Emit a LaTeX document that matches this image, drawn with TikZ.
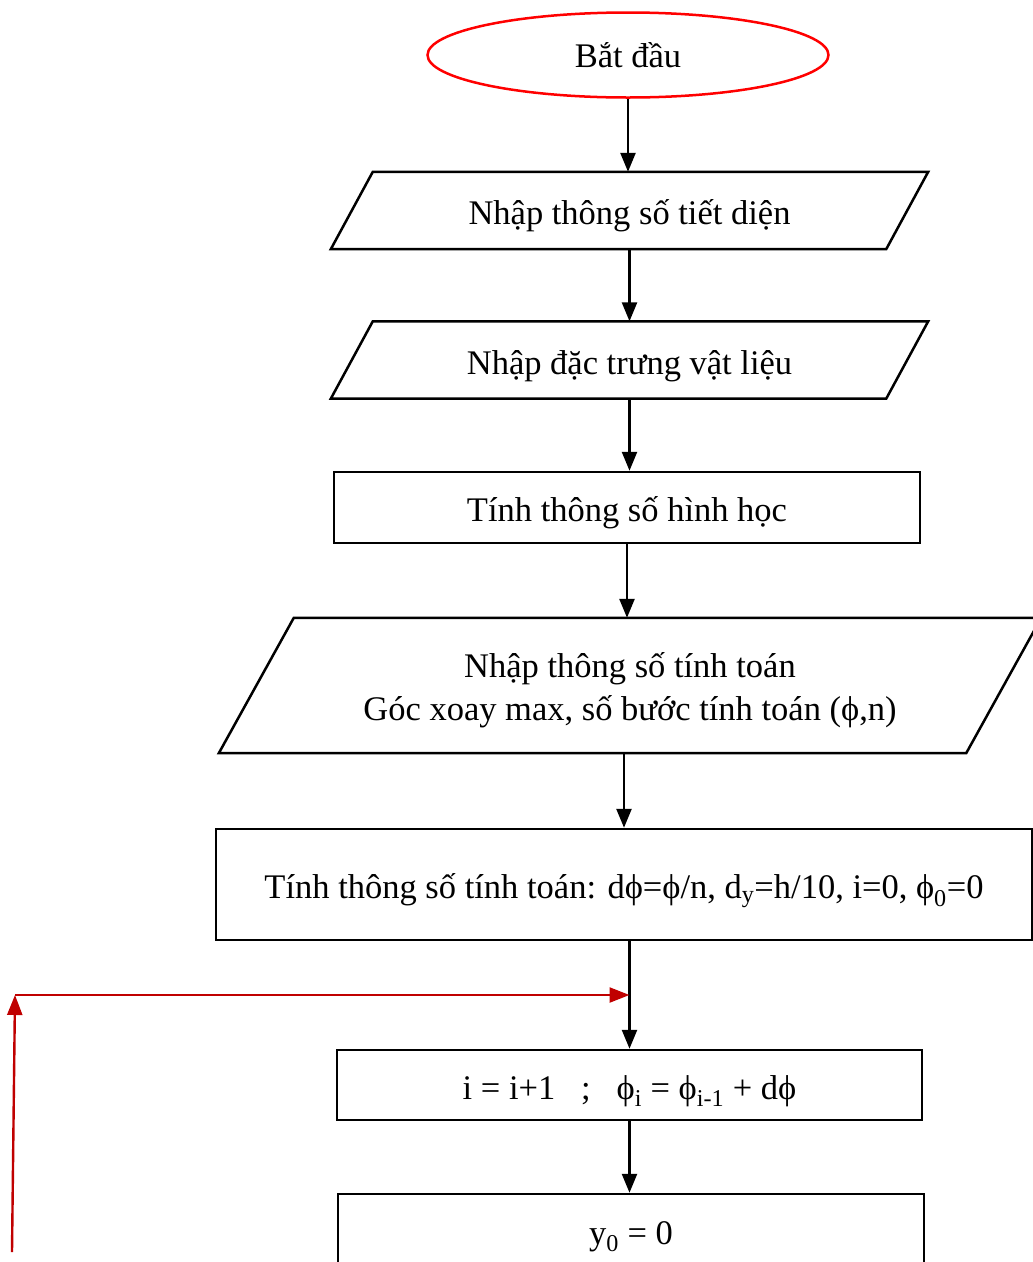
\documentclass[tikz,border=0pt]{standalone}
\usepackage{fontspec}
\setmainfont{Liberation Serif}
\usepackage{tikz}
\usetikzlibrary{arrows.meta,shapes.geometric,positioning,calc}
\definecolor{loopred}{RGB}{192,0,0}

\tikzset{
  startnode/.style={ellipse,draw=red,line width=2.5pt,minimum width=401pt,minimum height=85pt,inner sep=0pt},
  io/.style={rectangle,inner sep=0pt,align=center,text height=28pt,text depth=0pt},
  proc/.style={rectangle,draw,line width=2.5pt,inner sep=0pt,align=center,text height=28pt,text depth=0pt},
  box/.style={line width=2.5pt,line join=miter},
  arr/.style={-{Triangle[length=19pt,width=15pt]},line width=2.5pt},
  back/.style={-{Triangle[length=20pt,width=15pt]},draw=loopred,line width=2.4pt}
}

\begin{document}
\begin{tikzpicture}[x=1pt,y=-1pt,font=\fontsize{34.5}{43}\selectfont]
\useasboundingbox (0,0) rectangle (1033,1262);
\node[startnode] (start) at (628,55) {Bắt đầu};
\node[io,minimum width=555pt,minimum height=77pt] (in1) at (629.5,210.5) {Nhập thông số tiết diện};
\node[io,minimum width=555pt,minimum height=77pt] (in2) at (629.5,360) {Nhập đặc trưng vật liệu};
\node[proc,minimum width=586pt,minimum height=71pt] (geo) at (627,507.5) {Tính thông số hình học};
\node[io,minimum width=747pt,minimum height=135pt,text height=70pt] (in3) at (630,685.5) {Nhập thông số tính toán\\Góc xoay max, số bước tính toán (ϕ,n)};
\node[proc,minimum width=816pt,minimum height=111pt] (init) at (624,884.5) {Tính thông số tính toán: dϕ=ϕ/n, d\textsubscript{y}=h/10, i=0, ϕ\textsubscript{0}=0};
\node[proc,minimum width=585pt,minimum height=70pt] (inc) at (629.5,1085) {i = i+1 \ \ ; \ \ ϕ\textsubscript{i} = ϕ\textsubscript{i-1} + dϕ};
\node[proc,minimum width=586pt,minimum height=78pt,text height=22pt] (ycalc) at (631,1233) {y\textsubscript{0} = 0};
% slanted input boxes
\foreach \n/\s in {in1/21,in2/21,in3/37.5}
  \draw[box] ($(\n.south west)+(-\s,0)$) -- ($(\n.north west)+(\s,0)$) -- ($(\n.north east)+(\s,0)$) -- ($(\n.south east)+(-\s,0)$) -- cycle;
\draw[arr] (start.south) -- (start.south |- in1.north);
\draw[arr] (in1.south) -- (in1.south |- in2.north);
\draw[arr] (in2.south) -- (in2.south |- geo.north);
\draw[arr] (geo.south) -- (geo.south |- in3.north);
\draw[arr] (init.north |- in3.south) -- (init.north);
\draw[arr] (inc.north |- init.south) -- (inc.north);
\draw[arr] (inc.south) -- (inc.south |- ycalc.north);
\coordinate (loopfoot) at (12,1252);
\coordinate (loopturn) at (15,995);
\draw[back] (loopfoot) -- (loopturn);
\draw[back] (loopturn) -- (loopturn -| inc.north);
\end{tikzpicture}
\end{document}
